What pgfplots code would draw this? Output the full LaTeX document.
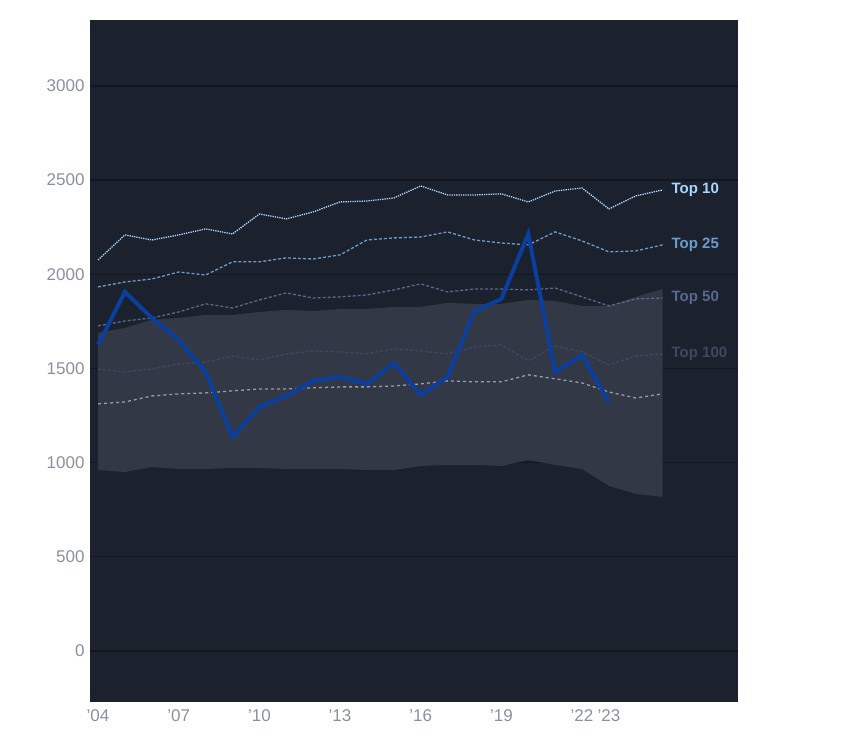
\documentclass[border=0pt]{standalone}
\usepackage{pgfplots}
\pgfplotsset{compat=1.18}
\usepackage{fontspec}
\setmainfont{Liberation Sans}
\definecolor{bg}{HTML}{1C212E}
\definecolor{grd}{HTML}{131720}
\definecolor{tk}{HTML}{8A909C}
\definecolor{tten}{HTML}{A8D6FF}
\definecolor{ttf}{HTML}{6C9BCB}
\definecolor{tfif}{HTML}{56698E}
\definecolor{thun}{HTML}{3D4862}
\definecolor{band}{HTML}{333846}
\definecolor{med}{HTML}{9A9CA4}
\definecolor{mainb}{HTML}{0A3FA0}
\begin{document}
\begin{tikzpicture}
\useasboundingbox (-90pt,-46pt) rectangle (754pt,702pt);
\begin{axis}[at={(0,0)},anchor=south west,scale only axis,width=648pt,height=682pt,
 xmin=2003.7,xmax=2027.8,ymin=-271,ymax=3350,
 axis background/.style={fill=bg},axis line style={draw=none},
 xtick={2004,2007,2010,2013,2016,2019,2022,2023},
 xticklabels={'04,'07,'10,'13,'16,'19,'22,'23},
 ytick={0,500,...,3000},ymajorgrids,grid style={grd,line width=1.2pt},
 tick style={draw=none},
 ticklabel style={font=\fontsize{17}{17}\selectfont,text=tk},
 /pgf/number format/assume math mode=true,
 /pgf/number format/1000 sep={},
 yticklabel style={xshift=-2pt},xticklabel style={yshift=-4pt},
 clip=false]
\addplot[fill=band,draw=none] coordinates {(2004,1689)(2005,1715)(2006,1758)(2007,1768)(2008,1784)(2009,1784)(2010,1800)(2011,1811)(2012,1805)(2013,1816)(2014,1816)(2015,1827)(2016,1827)(2017,1848)(2018,1843)(2019,1843)(2020,1864)(2021,1858)(2022,1832)(2023,1832)(2024,1880)(2025,1922)
(2025,818)(2024,834)(2023,876)(2022,966)(2021,988)(2020,1014)(2019,982)(2018,988)(2017,988)(2016,982)(2015,961)(2014,961)(2013,966)(2012,966)(2011,966)(2010,972)(2009,972)(2008,966)(2007,966)(2006,977)(2005,950)(2004,961)} --cycle;
\addplot[med,dashed,line width=1.3pt] coordinates {(2004,1312)(2005,1322)(2006,1354)(2007,1365)(2008,1370)(2009,1381)(2010,1391)(2011,1391)(2012,1397)(2013,1402)(2014,1402)(2015,1407)(2016,1418)(2017,1434)(2018,1429)(2019,1429)(2020,1466)(2021,1445)(2022,1423)(2023,1375)(2024,1343)(2025,1365)};
\addplot[thun,densely dashed,line width=1.3pt] coordinates {(2004,1497)(2005,1481)(2006,1497)(2007,1524)(2008,1535)(2009,1566)(2010,1545)(2011,1577)(2012,1593)(2013,1588)(2014,1577)(2015,1604)(2016,1593)(2017,1577)(2018,1614)(2019,1625)(2020,1540)(2021,1620)(2022,1588)(2023,1519)(2024,1566)(2025,1577)};
\addplot[tfif,densely dashed,line width=1.3pt] coordinates {(2004,1726)(2005,1752)(2006,1768)(2007,1800)(2008,1843)(2009,1821)(2010,1864)(2011,1901)(2012,1874)(2013,1880)(2014,1890)(2015,1917)(2016,1949)(2017,1906)(2018,1922)(2019,1922)(2020,1917)(2021,1927)(2022,1880)(2023,1832)(2024,1869)(2025,1874)};
\addplot[ttf,densely dashed,line width=1.3pt] coordinates {(2004,1933)(2005,1959)(2006,1975)(2007,2012)(2008,1996)(2009,2066)(2010,2066)(2011,2087)(2012,2081)(2013,2103)(2014,2182)(2015,2193)(2016,2198)(2017,2225)(2018,2182)(2019,2166)(2020,2156)(2021,2225)(2022,2177)(2023,2119)(2024,2124)(2025,2156)};
\addplot[tten,densely dotted,line width=1.3pt] coordinates {(2004,2076)(2005,2209)(2006,2182)(2007,2209)(2008,2241)(2009,2214)(2010,2320)(2011,2294)(2012,2331)(2013,2384)(2014,2389)(2015,2405)(2016,2469)(2017,2421)(2018,2421)(2019,2427)(2020,2384)(2021,2442)(2022,2458)(2023,2347)(2024,2416)(2025,2448)};
\addplot[mainb,line width=4pt] coordinates {(2004,1625)(2005,1906)(2006,1768)(2007,1651)(2008,1481)(2009,1136)(2010,1296)(2011,1354)(2012,1434)(2013,1455)(2014,1418)(2015,1529)(2016,1359)(2017,1455)(2018,1805)(2019,1869)(2020,2214)(2021,1481)(2022,1572)(2023,1322)};
\node[anchor=west,text=tten,font=\bfseries\fontsize{15}{15}\selectfont] at (axis cs:2025.2,2448) {Top 10};
\node[anchor=west,text=ttf,font=\bfseries\fontsize{15}{15}\selectfont] at (axis cs:2025.2,2156) {Top 25};
\node[anchor=west,text=tfif,font=\bfseries\fontsize{15}{15}\selectfont] at (axis cs:2025.2,1874) {Top 50};
\node[anchor=west,text=thun,font=\bfseries\fontsize{15}{15}\selectfont] at (axis cs:2025.2,1577) {Top 100};
\end{axis}
\end{tikzpicture}
\end{document}
